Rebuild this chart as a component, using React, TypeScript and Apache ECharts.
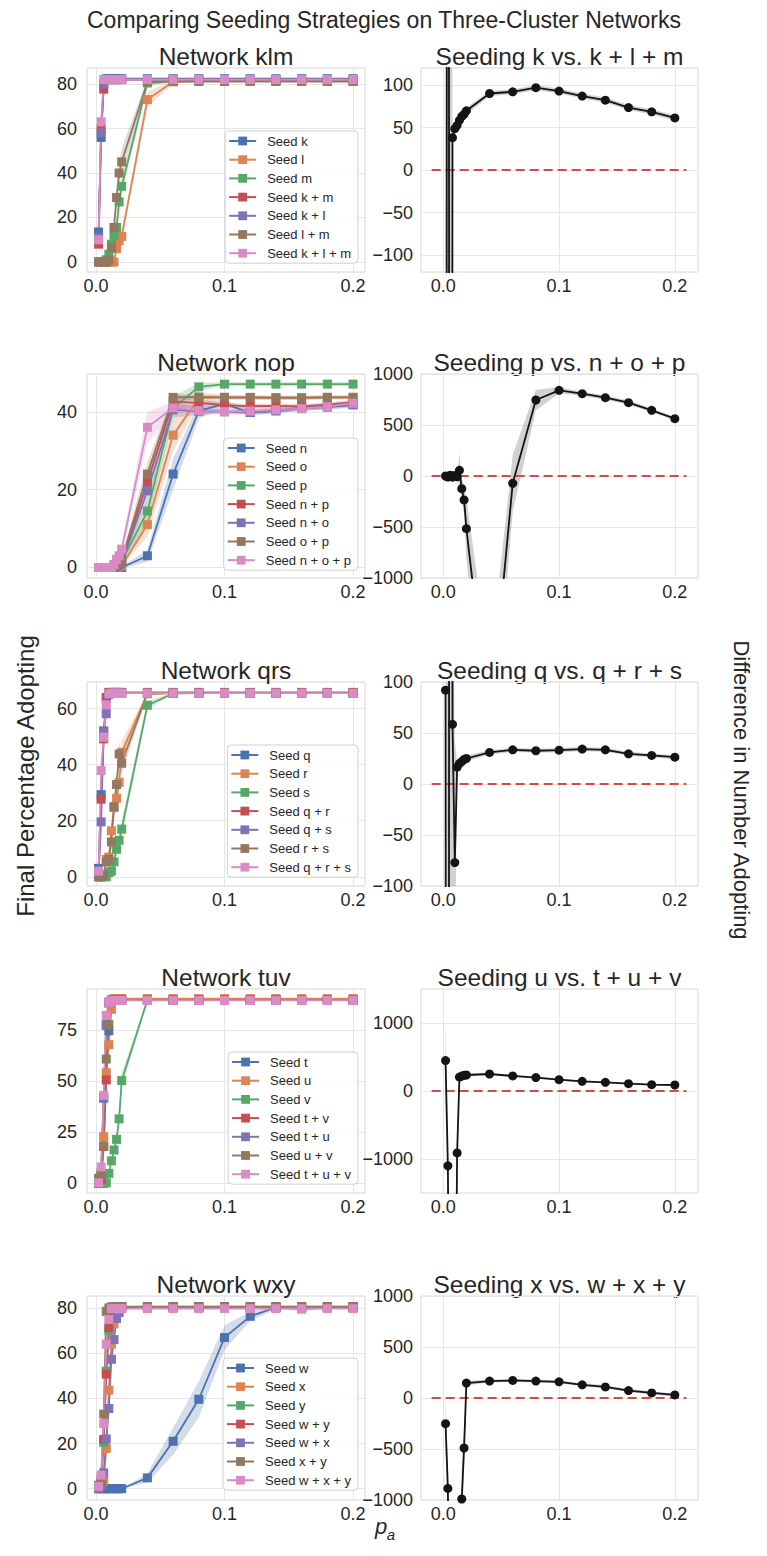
import React, { useEffect, useRef } from "react";
import * as echarts from "echarts";

// ---------------- data ----------------
const pA = [0.002, 0.004, 0.006, 0.008, 0.01, 0.012, 0.014, 0.016, 0.018, 0.02, 0.04, 0.06, 0.08, 0.1, 0.12, 0.14, 0.16, 0.18, 0.2];

// Network klm (final percentage adopting)
const klmNames = ["Seed k", "Seed l", "Seed m", "Seed k + m", "Seed k + l", "Seed l + m", "Seed k + l + m"];
const klmK = [13.5, 56, 80, 82.4, 82.4, 82.4, 82.4, 82.4, 82.4, 82.4, 82.4, 82.4, 82.4, 82.4, 82.4, 82.4, 82.4, 82.4, 82.4];
const klmL = [0, 0, 0, 0, 0, 0, 0, 6, 9.5, 11.5, 73, 81, 81.2, 81.2, 81.2, 81.2, 81.2, 81.2, 81.2];
const klmM = [0, 0, 0, 1, 3.5, 8, 12, 15.5, 27, 34, 80.5, 81.2, 81.2, 81.2, 81.2, 81.2, 81.2, 81.2, 81.2];
const klmKM = [8, 60, 77.7, 82, 82, 82, 82, 82, 82, 82, 82, 82, 82, 82, 82, 82, 82, 82, 82];
const klmKL = [11, 58, 80, 82, 82, 82, 82, 82, 82, 82, 82, 82, 82, 82, 82, 82, 82, 82, 82];
const klmLM = [0, 0, 0, 0, 1, 6.5, 15.5, 29, 40, 45, 81, 81.2, 81.2, 81.2, 81.2, 81.2, 81.2, 81.2, 81.2];
const klmKLM = [10, 63, 82, 82, 82, 82, 82, 82, 82, 82, 82, 82, 82, 82, 82, 82, 82, 82, 82];
const klmLSpread = [0, 0, 0, 0, 0, 0, 0, 1.5, 2, 2.5, 3.5, 0.6, 0.3, 0.3, 0.3, 0.3, 0.3, 0.3, 0.3];
const klmMSpread = [0, 0, 0, 0.5, 1, 2, 3, 3.5, 4, 4, 1.5, 0.3, 0.3, 0.3, 0.3, 0.3, 0.3, 0.3, 0.3];
const klmLMSpread = [0, 0, 0, 0, 0.5, 1.5, 3, 4, 5, 6, 1.5, 0.3, 0.3, 0.3, 0.3, 0.3, 0.3, 0.3, 0.3];

// Network nop
const nopNames = ["Seed n", "Seed o", "Seed p", "Seed n + p", "Seed n + o", "Seed o + p", "Seed n + o + p"];
const nopN = [0, 0, 0, 0, 0, 0, 0, 0, 0, 0, 3, 24, 40.2, 42, 39.8, 40.3, 41, 41.2, 41.8];
const nopO = [0, 0, 0, 0, 0, 0, 0, 0, 0.2, 0.5, 11, 34, 43.5, 43.7, 43.6, 43.6, 43.6, 43.7, 43.7];
const nopP = [0, 0, 0, 0, 0, 0, 0.5, 1, 1, 1.5, 14.5, 41, 46.4, 47.1, 47.1, 47.1, 47.1, 47.1, 47.1];
const nopNP = [0, 0, 0, 0, 0, 0, 0, 0.3, 0.8, 1.5, 22, 42.6, 42.3, 41.7, 41.4, 41.5, 41.4, 41.8, 42.5];
const nopNO = [0, 0, 0, 0, 0, 0, 0, 0.3, 0.6, 1.2, 19.7, 40.5, 40.2, 40, 39.8, 40.2, 40.8, 41.3, 41.8];
const nopOP = [0, 0, 0, 0, 0, 0, 0.2, 0.5, 1, 2, 24, 43.7, 43.8, 43.7, 43.7, 43.6, 43.6, 43.7, 43.7];
const nopNOP = [0, 0, 0, 0, 0, 0, 0.8, 2.1, 3, 4.7, 36, 41, 40.3, 40, 40.2, 40.5, 40.8, 41.3, 42.2];
const nopNSpread = [0, 0, 0, 0, 0, 0, 0, 0, 0, 0.3, 1.5, 4, 2, 1, 0.7, 0.7, 0.7, 0.7, 0.7];
const nopOSpread = [0, 0, 0, 0, 0, 0, 0, 0, 0.2, 0.4, 3, 4, 1.5, 0.6, 0.5, 0.5, 0.5, 0.5, 0.5];
const nopPSpread = [0, 0, 0, 0, 0, 0, 0.3, 0.5, 0.6, 0.8, 3, 3, 1, 0.5, 0.5, 0.5, 0.5, 0.5, 0.5];
const nopNPSpread = [0, 0, 0, 0, 0, 0, 0, 0.3, 0.5, 0.8, 3, 2, 1, 0.6, 0.6, 0.6, 0.6, 0.6, 0.6];
const nopNOSpread = [0, 0, 0, 0, 0, 0, 0, 0.3, 0.5, 0.8, 3, 2, 1, 0.6, 0.6, 0.6, 0.6, 0.6, 0.6];
const nopOPSpread = [0, 0, 0, 0, 0, 0, 0.2, 0.4, 0.6, 1, 3, 1, 0.5, 0.5, 0.5, 0.5, 0.5, 0.5, 0.5];
const nopNOPSpread = [0, 0, 0, 0, 0, 0, 0.3, 0.8, 1, 1.5, 4, 1.5, 0.8, 0.6, 0.6, 0.6, 0.6, 0.6, 0.6];

// Network qrs
const qrsNames = ["Seed q", "Seed r", "Seed s", "Seed q + r", "Seed q + s", "Seed r + s", "Seed q + r + s"];
const qrsQ = [3, 29.3, 52, 63.6, 65.5, 65.6, 65.6, 65.6, 65.6, 65.6, 65.6, 65.6, 65.6, 65.6, 65.6, 65.6, 65.6, 65.6, 65.6];
const qrsR = [0, 0, 0.5, 6.2, 7, 16.4, 24.7, 28, 33.7, 44.4, 65.3, 65.5, 65.5, 65.5, 65.5, 65.5, 65.5, 65.5, 65.5];
const qrsS = [0, 0, 0, 0, 1.5, 2, 5.3, 9.8, 13, 17, 61.2, 65.4, 65.5, 65.5, 65.5, 65.5, 65.5, 65.5, 65.5];
const qrsQR = [0.5, 27.7, 49.2, 64, 65.8, 65.8, 65.8, 65.8, 65.8, 65.8, 65.8, 65.8, 65.8, 65.8, 65.8, 65.8, 65.8, 65.8, 65.8];
const qrsQS = [1, 19.6, 52, 58.2, 65, 65.5, 65.5, 65.5, 65.5, 65.5, 65.5, 65.5, 65.5, 65.5, 65.5, 65.5, 65.5, 65.5, 65.5];
const qrsRS = [0, 0, 0.5, 5.3, 6.2, 12.4, 25, 32.9, 43.8, 40.5, 65.4, 65.5, 65.5, 65.5, 65.5, 65.5, 65.5, 65.5, 65.5];
const qrsQRS = [2, 37.9, 49.8, 61.4, 65.3, 65.5, 65.5, 65.5, 65.5, 65.5, 65.5, 65.5, 65.5, 65.5, 65.5, 65.5, 65.5, 65.5, 65.5];
const qrsRSpread = [0, 0, 0.3, 1.5, 2, 3, 3.5, 4, 4, 4, 0.5, 0.2, 0.2, 0.2, 0.2, 0.2, 0.2, 0.2, 0.2];
const qrsSSpread = [0, 0, 0, 0, 0.5, 1, 1.5, 2, 2.5, 3, 1.5, 0.3, 0.2, 0.2, 0.2, 0.2, 0.2, 0.2, 0.2];
const qrsRSSpread = [0, 0, 0.3, 1, 1.5, 2, 3, 4, 4.5, 4, 0.5, 0.2, 0.2, 0.2, 0.2, 0.2, 0.2, 0.2, 0.2];

// Network tuv
const tuvNames = ["Seed t", "Seed u", "Seed v", "Seed t + v", "Seed t + u", "Seed u + v", "Seed t + u + v"];
const tuvT = [1, 4, 41.6, 77.5, 74.5, 89, 89.5, 89.5, 89.5, 89.5, 89.5, 89.5, 89.5, 89.5, 89.5, 89.5, 89.5, 89.5, 89.5];
const tuvU = [0, 3, 22.8, 54, 67.7, 85, 90.2, 90.2, 90.2, 90.2, 90.2, 90.2, 90.2, 90.2, 90.2, 90.2, 90.2, 90.2, 90.2];
const tuvV = [0, 0, 0, 0.3, 4.9, 11, 16.3, 21.5, 31.5, 50.2, 89.5, 89.5, 89.5, 89.5, 89.5, 89.5, 89.5, 89.5, 89.5];
const tuvTV = [0, 2, 18, 50.5, 88, 89.5, 89.5, 89.5, 89.5, 89.5, 89.5, 89.5, 89.5, 89.5, 89.5, 89.5, 89.5, 89.5, 89.5];
const tuvTU = [0, 5, 42, 77, 88.5, 89.5, 89.5, 89.5, 89.5, 89.5, 89.5, 89.5, 89.5, 89.5, 89.5, 89.5, 89.5, 89.5, 89.5];
const tuvUV = [2.5, 4.9, 18.3, 60.7, 77.5, 89, 89.5, 89.5, 89.5, 89.5, 89.5, 89.5, 89.5, 89.5, 89.5, 89.5, 89.5, 89.5, 89.5];
const tuvTUV = [0.3, 8, 43, 82, 88, 89, 89.3, 89.3, 89.3, 89.3, 89.3, 89.3, 89.3, 89.3, 89.3, 89.3, 89.3, 89.3, 89.3];
const tuvVSpread = [0, 0, 0, 0, 0.5, 1, 1.5, 2, 3, 4, 0.5, 0.2, 0.2, 0.2, 0.2, 0.2, 0.2, 0.2, 0.2];

// Network wxy
const wxyNames = ["Seed w", "Seed x", "Seed y", "Seed w + y", "Seed w + x", "Seed x + y", "Seed w + x + y"];
const wxyW = [1.5, 0, 0, 0, 0, 0, 0, 0, 0, 0, 4.8, 21, 39.6, 66.9, 76.3, 80.2, 79.6, 80.2, 80.2];
const wxyX = [0, 2, 3.5, 17.8, 43.6, 64, 73, 76, 79, 80.5, 80.6, 80.6, 80.6, 80.6, 80.6, 80.6, 80.6, 80.6, 80.6];
const wxyY = [0, 3, 20.5, 52, 70, 78, 80.5, 80.6, 80.6, 80.6, 80.6, 80.6, 80.6, 80.6, 80.6, 80.6, 80.6, 80.6, 80.6];
const wxyWY = [0.5, 5, 21.8, 50.7, 71.3, 78, 80, 80.5, 80.5, 80.5, 80.5, 80.5, 80.5, 80.5, 80.5, 80.5, 80.5, 80.5, 80.5];
const wxyWX = [0, 2, 7, 22, 35.5, 57.3, 66, 75.3, 78, 80.5, 80.3, 80.3, 80.3, 80.3, 80.3, 80.3, 80.3, 80.3, 80.3];
const wxyXY = [0.5, 3.5, 33, 78.5, 80, 80.5, 80.5, 80.5, 80.5, 80.5, 80.5, 80.5, 80.5, 80.5, 80.5, 80.5, 80.5, 80.5, 80.5];
const wxyWXY = [1, 6, 28.8, 64, 74.9, 79.7, 79.7, 79.7, 79.7, 79.7, 79.7, 79.7, 79.7, 79.7, 79.7, 79.7, 79.7, 79.7, 79.7];
const wxyWSpread = [0.5, 0, 0, 0, 0, 0, 0, 0, 0, 0, 2, 6, 8, 5.5, 2, 0.8, 0.8, 0.5, 0.5];

// Difference in number adopting (single seed minus triple seed)
const diffKlm = [-3000, 3000, -3000, 38, 48.6, 52.6, 58.5, 63, 65.6, 69.6, 90, 92, 96.8, 92.9, 87, 82.2, 73.5, 68.4, 61.3];
const diffKlmSpread = [8000, 8000, 8000, 8, 4, 4, 4, 4, 4, 4, 3, 3, 3, 3, 3, 3, 3, 3, 3];
const diffNop = [0, -10, 8, -12, 5, -8, 56, -124, -235, -516, -2480, -72, 745, 840, 807, 768, 719, 644, 562];
const diffNopSpread = [10, 10, 10, 10, 10, 10, 170, 100, 150, 300, 600, 280, 100, 30, 20, 20, 20, 20, 15];
const diffQrs = [92, -3000, 3000, 58.5, -77, 16.5, 20, 22, 24, 25, 31, 33.5, 32.6, 33.2, 34.2, 33.5, 29.6, 28, 26.3];
const diffQrsSpread = [250, 8000, 8000, 200, 120, 4, 3, 3, 3, 3, 2, 2, 2, 2, 2, 2, 2, 2, 2];
const diffTuv = [447, -1100, -5000, -5000, -5000, -910, 205, 220, 230, 235, 250, 221, 197, 167, 142, 128, 108, 93, 88];
const diffTuvSpread = [550, 400, 2000, 2000, 2000, 300, 30, 20, 20, 20, 15, 15, 15, 12, 12, 12, 12, 12, 12];
const diffWxy = [-252, -887, -3000, -3000, -3000, -3000, -3000, -990, -490, 146, 166, 172, 166, 159, 129, 109, 73, 50, 30];
const diffWxySpread = [250, 200, 1000, 1000, 1000, 1000, 1000, 300, 200, 20, 15, 15, 15, 15, 15, 15, 15, 15, 15];

const zeroLineX = [-0.01, 0.21];

const xTicks = [0, 0.1, 0.2];
const klmTicks = [0, 20, 40, 60, 80];
const nopTicks = [0, 20, 40];
const qrsTicks = [0, 20, 40, 60];
const tuvTicks = [0, 25, 50, 75];
const wxyTicks = [0, 20, 40, 60, 80];
const diffKlmTicks = [-100, -50, 0, 50, 100];
const diffNopTicks = [-1000, -500, 0, 500, 1000];
const diffQrsTicks = [-100, -50, 0, 50, 100];
const diffTuvTicks = [-1000, 0, 1000];
const diffWxyTicks = [-1000, -500, 0, 500, 1000];

// ---------------- styles / layout ----------------
const FONT = "'Liberation Sans', Arial, sans-serif";
const TEXT = "#262626";
const PALETTE = ["#4C72B0", "#DD8452", "#55A868", "#C44E52", "#8172B3", "#937860", "#DA8BC3"];
const ROW_TOP = [68, 374, 682, 989, 1296];
const PLOT_H = 204;
const LEFT_X = 87;
const LEFT_W = 278;
const RIGHT_X = 421;
const RIGHT_W = 277;
const LEFT_XR = [-0.007, 0.2093];
const RIGHT_XR = [-0.0192, 0.22];
const LEGEND_TOP = [131, 438, 745, 1052, 1358];

const leftPanels = [
  { title: "Network klm", names: klmNames, lines: [klmK, klmL, klmM, klmKM, klmKL, klmLM, klmKLM],
    bands: [[1, klmLSpread], [2, klmMSpread], [5, klmLMSpread]], yr: [-4.5, 87.2], ticks: klmTicks },
  { title: "Network nop", names: nopNames, lines: [nopN, nopO, nopP, nopNP, nopNO, nopOP, nopNOP],
    bands: [[0, nopNSpread], [1, nopOSpread], [2, nopPSpread], [3, nopNPSpread], [4, nopNOSpread], [5, nopOPSpread], [6, nopNOPSpread]],
    yr: [-2.7, 49.7], ticks: nopTicks },
  { title: "Network qrs", names: qrsNames, lines: [qrsQ, qrsR, qrsS, qrsQR, qrsQS, qrsRS, qrsQRS],
    bands: [[1, qrsRSpread], [2, qrsSSpread], [5, qrsRSSpread]], yr: [-3.3, 69.5], ticks: qrsTicks },
  { title: "Network tuv", names: tuvNames, lines: [tuvT, tuvU, tuvV, tuvTV, tuvTU, tuvUV, tuvTUV],
    bands: [[2, tuvVSpread]], yr: [-4.7, 94.9], ticks: tuvTicks },
  { title: "Network wxy", names: wxyNames, lines: [wxyW, wxyX, wxyY, wxyWY, wxyWX, wxyXY, wxyWXY],
    bands: [[0, wxyWSpread]], yr: [-5, 85.3], ticks: wxyTicks },
];

const rightPanels = [
  { title: "Seeding k vs. k + l + m", diff: diffKlm, spread: diffKlmSpread, yr: [-120, 120], ticks: diffKlmTicks },
  { title: "Seeding p vs. n + o + p", diff: diffNop, spread: diffNopSpread, yr: [-1000, 1000], ticks: diffNopTicks },
  { title: "Seeding q vs. q + r + s", diff: diffQrs, spread: diffQrsSpread, yr: [-100, 100], ticks: diffQrsTicks },
  { title: "Seeding u vs. t + u + v", diff: diffTuv, spread: diffTuvSpread, yr: [-1500, 1500], ticks: diffTuvTicks },
  { title: "Seeding x vs. w + x + y", diff: diffWxy, spread: diffWxySpread, yr: [-1000, 1000], ticks: diffWxyTicks },
];

const pts = (ys: number[]) => pA.map((x, i) => [x, ys[i]]);
const fmtY = (v: number) => (v < 0 ? "\u2212" + Math.abs(v) : String(v));

function xAxis(g: number, r: number[]) {
  return {
    type: "value", gridIndex: g, min: r[0], max: r[1],
    axisLine: { show: false },
    axisTick: { show: false, customValues: xTicks },
    axisLabel: { customValues: xTicks, formatter: (v: number) => v.toFixed(1), fontSize: 18, color: TEXT, fontFamily: FONT, margin: 5 },
    splitLine: { show: true, lineStyle: { color: "#e6e6e6", width: 1 } },
  };
}
function yAxis(g: number, r: number[], ticks: number[], margin: number) {
  return {
    type: "value", gridIndex: g, min: r[0], max: r[1],
    axisLine: { show: false },
    axisTick: { show: false, customValues: ticks },
    axisLabel: { customValues: ticks, formatter: fmtY, fontSize: 18, color: TEXT, fontFamily: FONT, margin },
    splitLine: { show: true, lineStyle: { color: "#e6e6e6", width: 1 } },
  };
}
// confidence band drawn as one polygon through the axes' own coordinate mapping
function band(g: number, ys: number[], spread: number[], color: string, opacity: number) {
  const lo = ys.map((v, i) => v - spread[i]);
  const hi = ys.map((v, i) => v + spread[i]);
  return {
    type: "custom", xAxisIndex: g, yAxisIndex: g, clip: true, silent: true, z: 1, animation: false,
    data: pA.map((x, i) => [x, ys[i]]),
    renderItem: (params: any, api: any) => {
      if (params.dataIndex !== 0) return null;
      const upper = pA.map((x, i) => api.coord([x, hi[i]]));
      const lower = pA.map((x, i) => api.coord([x, lo[i]])).reverse();
      return { type: "polygon", shape: { points: upper.concat(lower) }, style: { fill: color, opacity } };
    },
  };
}
function text(t: string, x: number, y: number, size: number, extra: any = {}) {
  return {
    type: "text", x, y, silent: true, ...extra,
    style: { text: t, fontSize: size, fontFamily: FONT, fill: TEXT, align: "center", verticalAlign: "middle", ...(extra.style || {}) },
  };
}

function buildOption() {
  const grid: any[] = [];
  const xAxes: any[] = [];
  const yAxes: any[] = [];
  const series: any[] = [];
  const legend: any[] = [];
  const graphic: any[] = [];

  leftPanels.forEach((p, i) => {
    const g = 2 * i;
    grid[g] = { left: LEFT_X, top: ROW_TOP[i], width: LEFT_W, height: PLOT_H, show: true, borderColor: "#d6d6d6", borderWidth: 1 };
    xAxes[g] = xAxis(g, LEFT_XR);
    yAxes[g] = yAxis(g, p.yr, p.ticks, 10);
    p.bands.forEach(([idx, s]: any) => series.push(band(g, p.lines[idx], s, PALETTE[idx], 0.25)));
    p.lines.forEach((ys, k) => {
      series.push({
        type: "line", name: p.names[k], xAxisIndex: g, yAxisIndex: g, data: pts(ys),
        symbol: "rect", symbolSize: 9, lineStyle: { color: PALETTE[k], width: 1.8 }, itemStyle: { color: PALETTE[k] },
        z: 3, silent: true, animation: false,
      });
    });
    legend.push({
      data: p.names, orient: "vertical", right: 409, top: LEGEND_TOP[i],
      itemWidth: 27, itemHeight: 11, itemGap: 2.7, padding: [2, 7, 2, 3],
      textStyle: { fontSize: 13, color: TEXT, fontFamily: FONT, lineHeight: 16, padding: [0, 0, 0, 6] },
      backgroundColor: "rgba(255,255,255,0.85)", borderColor: "#d0d0d0", borderWidth: 1, borderRadius: 4,
      selectedMode: false,
    });
    graphic.push(text(p.title, LEFT_X + LEFT_W / 2, ROW_TOP[i] - 12, 24.5));
  });

  rightPanels.forEach((p, i) => {
    const g = 2 * i + 1;
    grid[g] = { left: RIGHT_X, top: ROW_TOP[i], width: RIGHT_W, height: PLOT_H, show: true, borderColor: "#d6d6d6", borderWidth: 1 };
    xAxes[g] = xAxis(g, RIGHT_XR);
    yAxes[g] = yAxis(g, p.yr, p.ticks, 8);
    series.push(band(g, p.diff, p.spread, "#8c8c8c", 0.4));
    series.push({
      type: "line", name: "zero" + g, xAxisIndex: g, yAxisIndex: g, data: zeroLineX.map((x) => [x, 0]),
      symbol: "none", lineStyle: { color: "#D24B4B", width: 2, type: [9, 5] }, z: 2, silent: true, animation: false,
    });
    series.push({
      type: "line", name: "diff" + g, xAxisIndex: g, yAxisIndex: g, data: pts(p.diff),
      symbol: "circle", symbolSize: 9, lineStyle: { color: "#141414", width: 1.8 }, itemStyle: { color: "#141414" },
      z: 3, silent: true, animation: false,
    });
    graphic.push(text(p.title, RIGHT_X + RIGHT_W / 2, ROW_TOP[i] - 12, 24.5));
  });

  graphic.push(text("Comparing Seeding Strategies on Three-Cluster Networks", 384, 20, 23));
  graphic.push(text("Final Percentage Adopting", 25, 776, 24, { rotation: Math.PI / 2 }));
  graphic.push(text("Difference in Number Adopting", 741, 790, 22, { rotation: -Math.PI / 2 }));
  graphic.push(text("p", 381, 1526, 22, { style: { fontStyle: "italic" } }));
  graphic.push(text("a", 391, 1534, 15, { style: { fontStyle: "italic" } }));

  return {
    animation: false,
    backgroundColor: "#ffffff",
    grid, xAxis: xAxes, yAxis: yAxes, series, legend, graphic,
  };
}

export default function App() {
  const ref = useRef<HTMLDivElement>(null);
  useEffect(() => {
    const chart = echarts.init(ref.current as HTMLDivElement, null, { renderer: "svg" });
    chart.setOption(buildOption() as any);
    return () => chart.dispose();
  }, []);
  return <div ref={ref} style={{ position: "absolute", left: 0, top: 0, width: 767, height: 1556, background: "#fff" }} />;
}
